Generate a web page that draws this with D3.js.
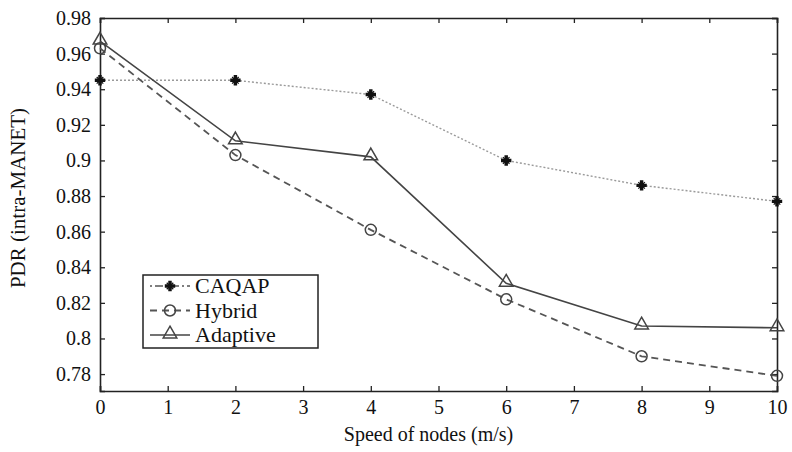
<!DOCTYPE html>
<html>
<head>
<meta charset="utf-8">
<script src="https://cdn.jsdelivr.net/npm/d3@7"></script>
<style>
  body { margin: 0; background: #fff; }
</style>
</head>
<body>
<script>
const WIDTH = 792;
const HEIGHT = 452;
const MARGIN = { top: 18, right: 15, bottom: 61, left: 100 };
const FONT = "'Liberation Serif', 'DejaVu Serif', 'Times New Roman', serif";

// Chart data
const speeds   = [0, 2, 4, 6, 8, 10];
const caqap    = [0.945, 0.945, 0.937, 0.900, 0.886, 0.877];
const hybrid   = [0.963, 0.903, 0.861, 0.822, 0.790, 0.779];
const adaptive = [0.967, 0.911, 0.902, 0.831, 0.807, 0.806];

const xTicks = [0, 1, 2, 3, 4, 5, 6, 7, 8, 9, 10];
const yTicks = [0.78, 0.8, 0.82, 0.84, 0.86, 0.88, 0.9, 0.92, 0.94, 0.96, 0.98];
const seriesNames = ["CAQAP", "Hybrid", "Adaptive"];

const svg = d3.select("body").append("svg")
  .attr("width", WIDTH)
  .attr("height", HEIGHT);

const x = d3.scaleLinear().domain([0, 10]).range([MARGIN.left, WIDTH - MARGIN.right]);
const y = d3.scaleLinear().domain([0.7705, 0.98]).range([HEIGHT - MARGIN.bottom, MARGIN.top]);

// Axes - matlab style, ticks pointing inwards on all four sides
const fmt = d => String(+d.toFixed(2));
svg.append("g")
  .attr("transform", "translate(0," + y.range()[0] + ")")
  .call(d3.axisBottom(x).tickValues(xTicks).tickSize(-5).tickPadding(9).tickFormat(d3.format("d")));
svg.append("g")
  .attr("transform", "translate(0," + y.range()[1] + ")")
  .call(d3.axisTop(x).tickValues(xTicks).tickSize(-5).tickFormat(""));
svg.append("g")
  .attr("transform", "translate(" + x.range()[0] + ",0)")
  .call(d3.axisLeft(y).tickValues(yTicks).tickSize(-5).tickPadding(9).tickFormat(fmt));
svg.append("g")
  .attr("transform", "translate(" + x.range()[1] + ",0)")
  .call(d3.axisRight(y).tickValues(yTicks).tickSize(-5).tickFormat(""));

svg.selectAll("g").attr("font-family", FONT);
svg.selectAll(".domain").attr("stroke", "#222").attr("stroke-width", 1.6);
svg.selectAll(".tick line").attr("stroke", "#222").attr("stroke-width", 1.3);
svg.selectAll(".tick text").style("font-size", "20px").attr("fill", "#111")
  .style("font-family", FONT);

// Axis titles
svg.append("text")
  .attr("x", (x.range()[0] + x.range()[1]) / 2 - 10)
  .attr("y", 441)
  .attr("text-anchor", "middle")
  .style("font-family", FONT)
  .style("font-size", "20px")
  .attr("fill", "#111")
  .text("Speed of nodes (m/s)");
svg.append("text")
  .attr("transform", "rotate(-90)")
  .attr("x", -198)
  .attr("y", 25)
  .attr("text-anchor", "middle")
  .style("font-family", FONT)
  .style("font-size", "21px")
  .attr("fill", "#111")
  .text("PDR (intra-MANET)");

// Line styles for each series
const styles = [
  { values: caqap,    stroke: "#9a9a9a", dash: "2,2", width: 1.4, marker: "star" },
  { values: hybrid,   stroke: "#555",    dash: "7,5", width: 1.8, marker: "circle" },
  { values: adaptive, stroke: "#444",    dash: null,  width: 1.6, marker: "triangle" }
];

const line = d3.line().x((d, i) => x(speeds[i])).y(d => y(d));

function drawMarker(g, type, cx, cy) {
  if (type === "star") {
    g.append("path")
      .attr("d", d3.symbol().type(d3.symbolCross).size(60)())
      .attr("transform", "translate(" + cx + "," + cy + ")")
      .attr("fill", "#111");
    g.append("path")
      .attr("d", d3.symbol().type(d3.symbolX).size(30)())
      .attr("transform", "translate(" + cx + "," + cy + ")")
      .attr("fill", "none").attr("stroke", "#111").attr("stroke-width", 1.2);
  } else if (type === "circle") {
    g.append("circle")
      .attr("cx", cx).attr("cy", cy).attr("r", 5.5)
      .attr("fill", "none").attr("stroke", "#444").attr("stroke-width", 1.5);
  } else {
    g.append("path")
      .attr("d", d3.symbol().type(d3.symbolTriangle).size(80)())
      .attr("transform", "translate(" + cx + "," + (cy - 1) + ")")
      .attr("fill", "none").attr("stroke", "#444").attr("stroke-width", 1.5);
  }
}

styles.forEach(s => {
  svg.append("path")
    .datum(s.values)
    .attr("d", line)
    .attr("fill", "none")
    .attr("stroke", s.stroke)
    .attr("stroke-width", s.width)
    .attr("stroke-dasharray", s.dash);
  const g = svg.append("g");
  s.values.forEach((v, i) => drawMarker(g, s.marker, x(speeds[i]), y(v)));
});

// Legend box
const legend = svg.append("g").attr("transform", "translate(143,275)");
legend.append("rect")
  .attr("width", 175).attr("height", 73)
  .attr("fill", "#fff").attr("stroke", "#222").attr("stroke-width", 1.5);
seriesNames.forEach((name, i) => {
  const ly = 11 + i * 24.5;
  legend.append("line")
    .attr("x1", 7).attr("x2", 47).attr("y1", ly).attr("y2", ly)
    .attr("stroke", i === 0 ? "#555" : styles[i].stroke)
    .attr("stroke-width", styles[i].width)
    .attr("stroke-dasharray", i === 0 ? "2,3,8,3" : (i === 1 ? "7,5" : null));
  drawMarker(legend, styles[i].marker, 27, ly);
  legend.append("text")
    .attr("x", 52).attr("y", ly + 7)
    .style("font-family", FONT)
    .style("font-size", "22px")
    .attr("fill", "#111")
    .text(name);
});
</script>
</body>
</html>
